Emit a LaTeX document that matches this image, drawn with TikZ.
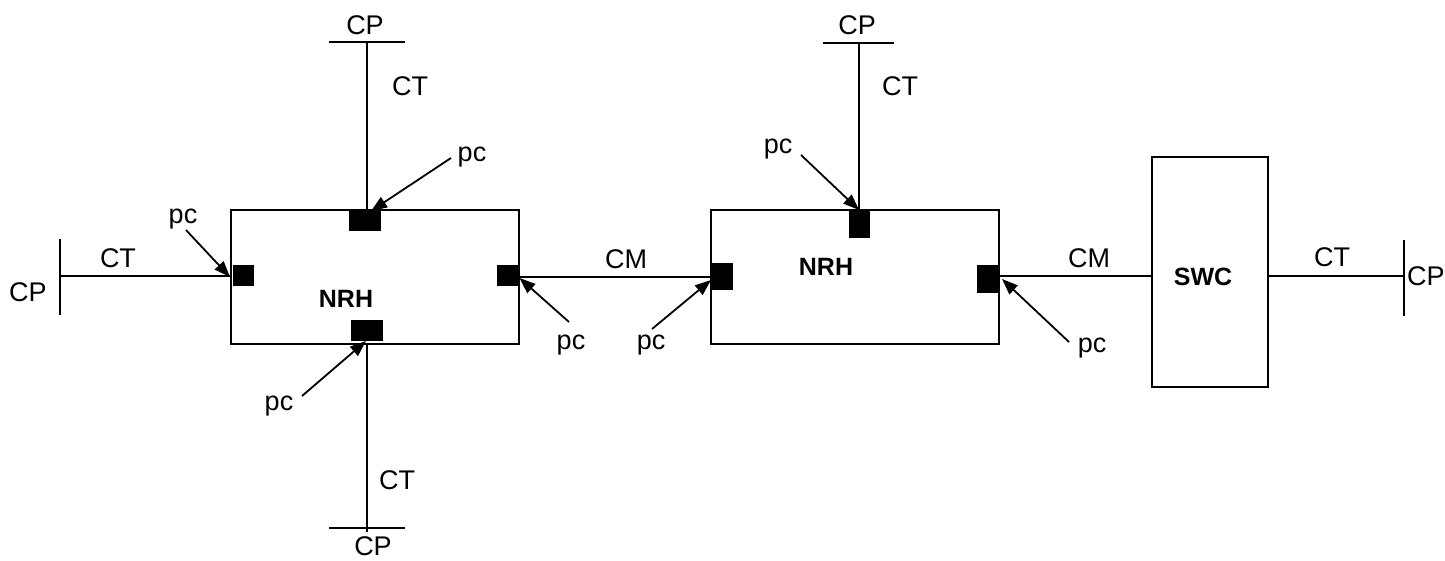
\documentclass[tikz,border=0pt]{standalone}
\usepackage{fontspec}
\setmainfont{Liberation Sans}
\usetikzlibrary{arrows.meta,calc}
\begin{document}
\begin{tikzpicture}[x=1pt,y=-1pt,
  ln/.style={line width=2pt},
  blk/.style={draw, line width=2pt, inner sep=0pt},
  port/.style={fill=black, draw=none, inner sep=0pt},
  lbl/.style={font=\fontsize{27}{30}\selectfont, inner sep=0pt},
  bld/.style={font=\fontsize{25}{28}\selectfont\bfseries, inner sep=0pt},
  pcarrow/.style={line width=1.8pt, -{Triangle[length=16pt,width=12pt]}}]
\useasboundingbox (0,0) rectangle (1445,561);

% boxes
\node[blk, minimum width=288pt, minimum height=134pt] (nrh1) at (375,277) {};
\node[blk, minimum width=288pt, minimum height=134pt] (nrh2) at (854.5,277) {};
\node[blk, minimum width=116pt, minimum height=230pt] (swc) at (1210,272) {};

\node[bld] (t1) at (346,299) {NRH};
\node[bld] (t2) at (826,267) {NRH};
\node[bld] (t3) at (1203,277) {SWC};

% ports
\node[port, minimum width=32pt, minimum height=21pt] (p1t) at (365,220.5) {};
\node[port, minimum width=21pt, minimum height=21pt] (p1l) at (243.5,275.5) {};
\node[port, minimum width=22pt, minimum height=21pt] (p1r) at (508,276) {};
\node[port, minimum width=32pt, minimum height=21pt] (p1b) at (367,330.5) {};
\node[port, minimum width=21pt, minimum height=28pt] (p2t) at (859.5,224) {};
\node[port, minimum width=21pt, minimum height=27pt] (p2l) at (722,276.7) {};
\node[port, minimum width=21pt, minimum height=27pt] (p2r) at (987.5,279) {};

% CP terminations
\coordinate (cpL) at (60,276);
\coordinate (cpLa) at (60,239);
\coordinate (cpLb) at (60,315);
\draw[ln] (cpLa) -- (cpLb);
\draw[ln] (cpL) -- (cpL -| nrh1.west);

\coordinate (cpT1) at (367,42);
\coordinate (cpT1a) at (329,42);
\coordinate (cpT1b) at (405,42);
\draw[ln] (cpT1a) -- (cpT1b);
\draw[ln] (cpT1) -- (cpT1 |- nrh1.north);

\coordinate (cpB1) at (367,527.5);
\coordinate (cpB1a) at (329,527.5);
\coordinate (cpB1b) at (405,527.5);
\coordinate (cpB1e) at (367,532);
\draw[ln] (cpB1a) -- (cpB1b);
\draw[ln] (cpB1e) -- (cpB1e |- nrh1.south);

\coordinate (cpT2) at (859,42.7);
\coordinate (cpT2a) at (823,42.7);
\coordinate (cpT2b) at (894,42.7);
\draw[ln] (cpT2a) -- (cpT2b);
\draw[ln] (cpT2) -- (cpT2 |- nrh2.north);

\coordinate (cpR) at (1404,276);
\coordinate (cpRa) at (1404,240);
\coordinate (cpRb) at (1404,316);
\draw[ln] (cpRa) -- (cpRb);
\draw[ln] (cpR -| swc.east) -- (cpR);

% CM links
\draw[ln] (nrh1.east |- 0,277) -- (nrh2.west |- 0,277);
\draw[ln] (nrh2.east |- 0,276) -- (swc.west |- 0,276);

% labels
\node[lbl] (l1) at (28,292) {CP};
\node[lbl] (l2) at (118,258) {CT};
\node[lbl] (l3) at (365,25) {CP};
\node[lbl] (l4) at (410,86) {CT};
\node[lbl] (l5) at (373,546) {CP};
\node[lbl] (l6) at (397,480) {CT};
\node[lbl] (l7) at (626,259) {CM};
\node[lbl] (l8) at (857,25) {CP};
\node[lbl] (l9) at (900,86) {CT};
\node[lbl] (l10) at (1089,258) {CM};
\node[lbl] (l11) at (1332,257) {CT};
\node[lbl, anchor=west] (l12) at (1407,276) {CP};

% pc labels and arrows
\node[lbl] (pc1) at (472,157) {pc};
\node[lbl] (pc2) at (183,219) {pc};
\node[lbl] (pc3) at (571,345) {pc};
\node[lbl] (pc4) at (279,406) {pc};
\node[lbl] (pc5) at (651,345) {pc};
\node[lbl] (pc6) at (778,149) {pc};
\node[lbl] (pc7) at (1092,348) {pc};

\coordinate (a1s) at (451,158);  \coordinate (a1e) at (371,211);
\coordinate (a2s) at (186,230);  \coordinate (a2e) at (230,277);
\coordinate (a3s) at (569,322);  \coordinate (a3e) at (519.5,278);
\coordinate (a4s) at (302,396);  \coordinate (a4e) at (366,341);
\coordinate (a5s) at (652,329);  \coordinate (a5e) at (711,280);
\coordinate (a6s) at (801,155);  \coordinate (a6e) at (859,210);
\coordinate (a7s) at (1069,342); \coordinate (a7e) at (1002,279);
\foreach \i in {1,...,7} {\draw[pcarrow] (a\i s) -- (a\i e);}
\end{tikzpicture}
\end{document}
